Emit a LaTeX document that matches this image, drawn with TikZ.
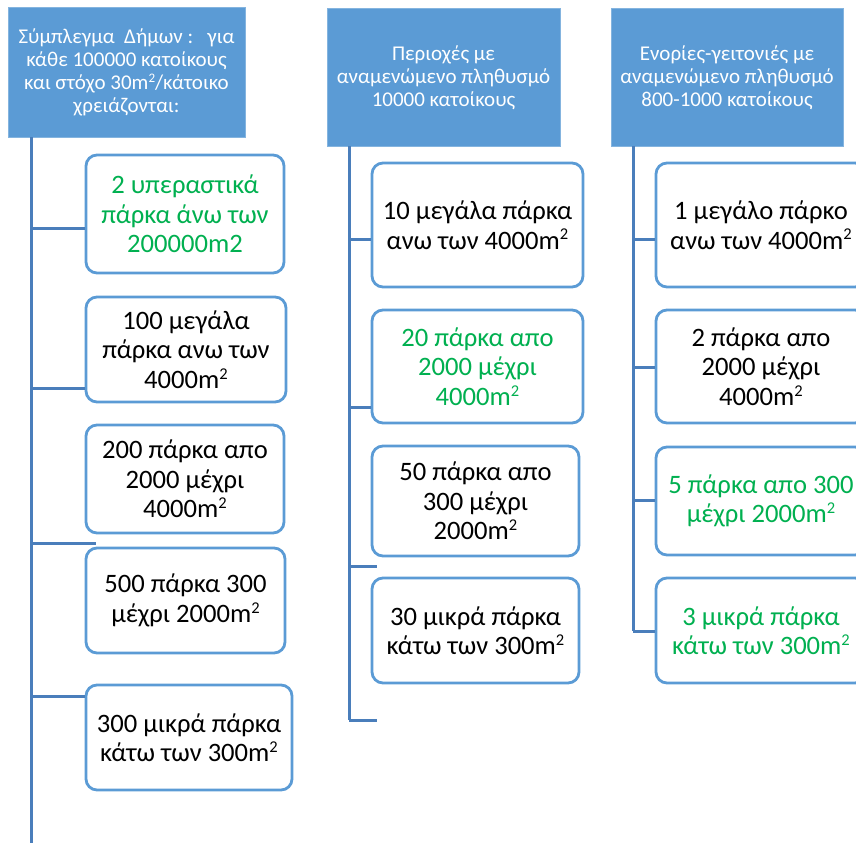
\documentclass[tikz,border=0pt]{standalone}
\usepackage{fontspec}
\setmainfont{Carlito}
\definecolor{hdr}{HTML}{5B9BD5}
\definecolor{bord}{HTML}{5B9BD5}
\definecolor{trunk}{HTML}{4A7EBB}
\definecolor{grn}{HTML}{00B050}
\newcommand{\sq}{\raisebox{0.34em}{\scalebox{0.62}{2}}}
\begin{document}
\begin{tikzpicture}[x=1pt,y=-1pt,
  hdrbox/.style={fill=hdr, draw=hdr!75!white, line width=1pt, text=white,
    font=\fontsize{21}{23}\selectfont, align=center, inner sep=0pt},
  itembox/.style={draw=bord, line width=2.8pt, rounded corners=11pt, fill=white,
    font=\fontsize{26.6}{29.5}\selectfont, align=center, inner sep=0pt},
  greentext/.style={text=grn},
  conn/.style={draw=trunk, line width=3pt}]
\useasboundingbox (0,0) rectangle (856,843);
\clip (0,0) rectangle (856,843);

% headers
\node[hdrbox, minimum width=237pt, minimum height=129pt] (h1) at (126.5,72.5)
  {Σύμπλεγμα\ \ Δήμων :\ \ \ για\\κάθε 100000 κατοίκους\\και στόχο 30m\sq/κάτοικο\\χρειάζονται:};
\node[hdrbox, minimum width=233pt, minimum height=137pt] (h2) at (443.5,77.5)
  {Περιοχές με\\αναμενώμενο πληθυσμό\\10000 κατοίκους};
\node[hdrbox, minimum width=232pt, minimum height=137pt] (h3) at (727,77.5)
  {Ενορίες-γειτονιές με\\αναμενώμενο πληθυσμό\\800-1000 κατοίκους};

% column 1 boxes
\node[itembox, greentext, minimum width=198pt, minimum height=118pt] (b11) at (185,214)
  {2 υπεραστικά\\πάρκα άνω των\\200000m2};
\node[itembox, minimum width=200pt, minimum height=105pt] (b12) at (186,349.5)
  {100 μεγάλα\\πάρκα ανω των\\4000m\sq};
\node[itembox, minimum width=198pt, minimum height=108pt] (b13) at (185,479)
  {200 πάρκα απο\\2000 μέχρι\\4000m\sq};
\node[itembox, minimum width=199pt, minimum height=105pt] (b14) at (185.5,600.5)
  {500 πάρκα 300\\μέχρι 2000m\sq};
\node[itembox, minimum width=206pt, minimum height=105pt] (b15) at (189,737.5)
  {300 μικρά πάρκα\\κάτω των 300m\sq};

% column 2 boxes
\node[itembox, minimum width=211pt, minimum height=124pt] (b21) at (477.5,225)
  {10 μεγάλα πάρκα\\ανω των 4000m\sq};
\node[itembox, greentext, minimum width=211pt, minimum height=113pt] (b22) at (477.5,366.5)
  {20 πάρκα απο\\2000 μέχρι\\4000m\sq};
\node[itembox, minimum width=207pt, minimum height=110pt] (b23) at (475.5,501)
  {50 πάρκα απο\\300 μέχρι\\2000m\sq};
\node[itembox, minimum width=207pt, minimum height=105pt] (b24) at (475.5,630.5)
  {30 μικρά πάρκα\\κάτω των 300m\sq};

% column 3 boxes
\node[itembox, minimum width=210pt, minimum height=124pt] (b31) at (761,225)
  {1 μεγάλο πάρκο\\ανω των 4000m\sq};
\node[itembox, minimum width=210pt, minimum height=113pt] (b32) at (761,366.5)
  {2 πάρκα απο\\2000 μέχρι\\4000m\sq};
\node[itembox, greentext, minimum width=210pt, minimum height=108pt] (b33) at (761,501)
  {5 πάρκα απο 300\\μέχρι 2000m\sq};
\node[itembox, greentext, minimum width=210pt, minimum height=105pt] (b34) at (761,630.5)
  {3 μικρά πάρκα\\κάτω των 300m\sq};

% trunks
\coordinate (t1) at (31,137);
\coordinate (t1end) at (31,843);
\coordinate (t2) at (349,146);
\coordinate (t2end) at (349,720);
\coordinate (t3) at (633,146);
\coordinate (t3end) at (633,631);
\coordinate (c13end) at (96,543);
\coordinate (c23end) at (377,566);
\coordinate (c24end) at (377,720);

\draw[conn] (t1) -- (t1end);
\draw[conn] (t2) -- (t2end);
\draw[conn] (t3) -- (t3end);

% column 1 branches
\draw[conn] (t1 |- 0,228) -- (b11.west |- 0,228);
\draw[conn] (t1 |- 0,388) -- (b12.west |- 0,388);
\draw[conn] (t1 |- c13end) -- (c13end);
\draw[conn] (t1 |- 0,696) -- (b15.west |- 0,696);

% column 2 branches
\draw[conn] (t2 |- 0,239) -- (b21.west |- 0,239);
\draw[conn] (t2 |- 0,407) -- (b22.west |- 0,407);
\draw[conn] (t2 |- c23end) -- (c23end);
\draw[conn] (t2end) -- (c24end);

% column 3 branches
\draw[conn] (t3 |- 0,239) -- (b31.west |- 0,239);
\draw[conn] (t3 |- 0,367) -- (b32.west |- 0,367);
\draw[conn] (t3 |- 0,500) -- (b33.west |- 0,500);
\draw[conn] (t3end) -- (b34.west |- t3end);
\end{tikzpicture}
\end{document}
